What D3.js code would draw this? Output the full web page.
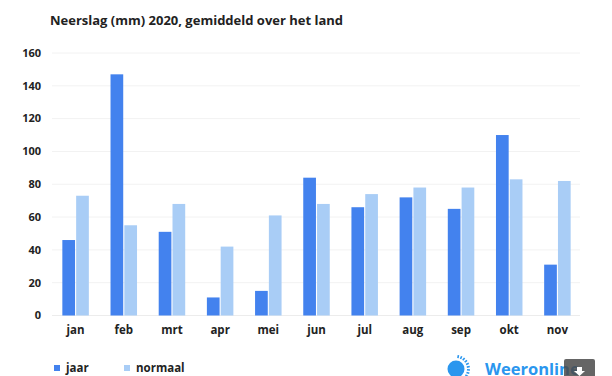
<!DOCTYPE html>
<html>
<head>
<meta charset="utf-8">
<script src="https://cdn.jsdelivr.net/npm/d3@7"></script>
<style>
  body { margin: 0; background: #fff; }
  svg { font-family: "Open Sans", sans-serif; }
</style>
</head>
<body>
<div class="chart"></div>
<script>
// Data.
const months = ['jan', 'feb', 'mrt', 'apr', 'mei', 'jun', 'jul', 'aug', 'sep', 'okt', 'nov'];
const jaar = [46, 147, 51, 11, 15, 84, 66, 72, 65, 110, 31];
const normaal = [73, 55, 68, 42, 61, 68, 74, 78, 78, 83, 82];
const series = ['jaar', 'normaal'];
const yTicks = [0, 20, 40, 60, 80, 100, 120, 140, 160];

const width = 612, height = 376;
const colors = { jaar: '#4382ee', normaal: '#a9cdf6' };

const svg = d3.select('.chart')
    .append('svg')
        .attr('width', width)
        .attr('height', height);

// Scales.
const x = d3.scaleBand()
    .domain(months)
    .range([51.5, 581.5])
    .paddingInner(0.45)
    .paddingOuter(0.225);

const xs = d3.scaleBand()
    .domain(series)
    .range([0, x.bandwidth()])
    .paddingInner(0.08);

const y = d3.scaleLinear()
    .domain([0, 160])
    .range([315.5, 53]);

// Title.
svg.append('text')
    .attr('x', 50)
    .attr('y', 25)
    .attr('font-size', 13)
    .attr('font-weight', 700)
    .attr('fill', '#222')
    .text('Neerslag (mm) 2020, gemiddeld over het land');

// Gridlines + y labels.
const yAxis = svg.append('g').attr('class', 'y-axis');
yAxis.selectAll('line')
    .data(yTicks)
    .join('line')
        .attr('x1', 52)
        .attr('x2', 580)
        .attr('y1', d => y(d))
        .attr('y2', d => y(d))
        .attr('stroke', d => d === 0 ? '#ececec' : '#f2f2f2')
        .attr('stroke-width', 1);

yAxis.selectAll('text')
    .data(yTicks)
    .join('text')
        .attr('x', 41)
        .attr('y', d => y(d))
        .attr('dy', '0.35em')
        .attr('text-anchor', 'end')
        .attr('font-size', 11)
        .attr('font-weight', 700)
        .attr('fill', '#222')
        .text(d => d);

// Bars.
const rows = months.map((m, i) => ({ month: m, jaar: jaar[i], normaal: normaal[i] }));

const groups = svg.append('g').attr('class', 'bars')
    .selectAll('g')
    .data(rows)
    .join('g')
        .attr('transform', d => `translate(${x(d.month)},0)`);

groups.selectAll('rect')
    .data(d => series.map(s => ({ key: s, value: d[s] })))
    .join('rect')
        .attr('x', d => xs(d.key))
        .attr('width', xs.bandwidth())
        .attr('y', d => y(d.value))
        .attr('height', d => y(0) - y(d.value))
        .attr('fill', d => colors[d.key]);

// Month labels.
svg.append('g').attr('class', 'x-axis')
    .selectAll('text')
    .data(months)
    .join('text')
        .attr('x', d => x(d) + x.bandwidth() / 2)
        .attr('y', 334)
        .attr('text-anchor', 'middle')
        .attr('font-size', 11.5)
        .attr('font-weight', 700)
        .attr('fill', '#222')
        .text(d => d);

// Legend.
const legendX = { jaar: 54, normaal: 124 };
const legend = svg.append('g').attr('class', 'legend')
    .selectAll('g')
    .data(series)
    .join('g')
        .attr('transform', d => `translate(${legendX[d]},365)`);

legend.append('rect')
    .attr('width', 6)
    .attr('height', 6)
    .attr('fill', d => colors[d]);

legend.append('text')
    .attr('x', 12)
    .attr('y', 3)
    .attr('dy', '0.35em')
    .attr('font-size', 11.5)
    .attr('font-weight', 700)
    .attr('fill', '#222')
    .text(d => d);

// Weeronline logo (partly cut off at bottom).
const logo = svg.append('g').attr('class', 'logo');
logo.append('circle')
    .attr('cx', 456)
    .attr('cy', 369)
    .attr('r', 8.5)
    .attr('fill', '#2a96ee');
d3.range(-80, 90, 14).forEach(a => {
    const r = a * Math.PI / 180;
    logo.append('line')
        .attr('x1', 456 + Math.cos(r) * 11)
        .attr('y1', 369 + Math.sin(r) * 11)
        .attr('x2', 456 + Math.cos(r) * 14)
        .attr('y2', 369 + Math.sin(r) * 14)
        .attr('stroke', '#2a96ee')
        .attr('stroke-width', 1.6);
});
logo.append('text')
    .attr('x', 485)
    .attr('y', 375)
    .attr('font-size', 16.5)
    .attr('font-weight', 700)
    .attr('fill', '#2a96ee')
    .text('Weeronline');

// Dark download button overlay.
const btn = svg.append('g').attr('class', 'btn');
btn.append('rect')
    .attr('x', 564)
    .attr('y', 359)
    .attr('width', 31)
    .attr('height', 22)
    .attr('rx', 2)
    .attr('fill', '#4a4a4a')
    .attr('opacity', 0.85);
btn.append('path')
    .attr('d', 'M577,367 h5 v4 h3 l-5.5,5 l-5.5,-5 h3 z')
    .attr('fill', '#fff');
</script>
</body>
</html>
